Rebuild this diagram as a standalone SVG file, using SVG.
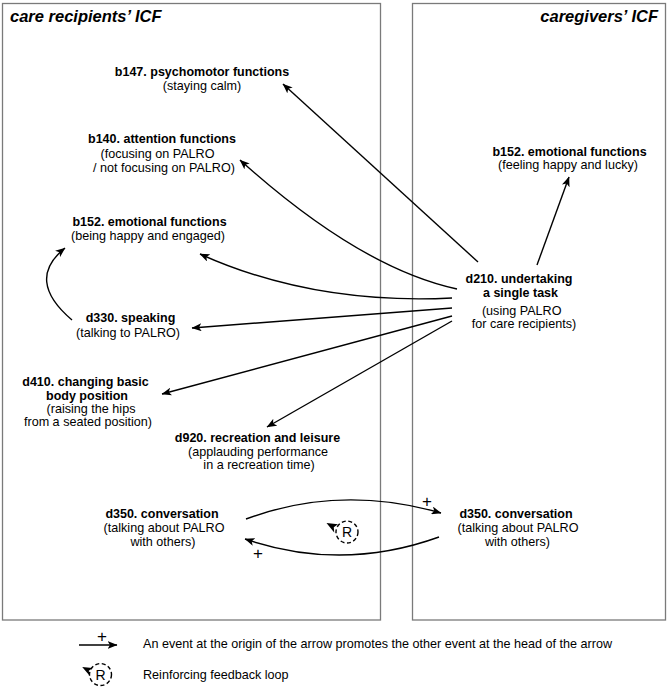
<svg xmlns="http://www.w3.org/2000/svg" width="669" height="695" viewBox="0 0 669 695">
<style>
.box{fill:none;stroke:#7a7a7a;stroke-width:1.3}
.title{font-family:"Liberation Sans",Arial,sans-serif;font-size:16.5px;font-weight:bold;font-style:italic;fill:#000}
.b{font-family:"Liberation Sans",Arial,sans-serif;font-size:12.5px;font-weight:bold;fill:#000;text-anchor:middle}
.r{font-family:"Liberation Sans",Arial,sans-serif;font-size:12.6px;fill:#000;text-anchor:middle}
.lg{font-family:"Liberation Sans",Arial,sans-serif;font-size:12.6px;fill:#000}
.pl{font-family:"Liberation Sans",Arial,sans-serif;font-size:17px;fill:#000;text-anchor:middle}
.rr{font-family:"Liberation Sans",Arial,sans-serif;font-size:14px;fill:#000;text-anchor:middle}
.c{fill:none;stroke:#000;stroke-width:1.4;marker-end:url(#arr)}
.loop{fill:#fff;stroke:#000;stroke-width:1.4;stroke-dasharray:4 2.6}
</style>
<defs>
<marker id="arr" viewBox="0 0 10 8" markerWidth="10" markerHeight="8" refX="9.5" refY="4" orient="auto" markerUnits="userSpaceOnUse">
<path d="M0,0 L10,4 L0,8 L2.5,4 z" fill="#000"/>
</marker>
</defs>
<rect class="box" x="2.5" y="3.5" width="378" height="616.5"/>
<rect class="box" x="412.5" y="3.5" width="253" height="616.5"/>
<text class="title" x="10" y="22">care recipients’ ICF</text>
<text class="title" x="658" y="22" text-anchor="end">caregivers’ ICF</text>

<g id="connectors">
<path class="c" d="M478,262 L283,84"/>
<path class="c" d="M457,289 Q360,268 240,160"/>
<path class="c" d="M452,298 Q313,305 200,254"/>
<path class="c" d="M452,308 L192,328"/>
<path class="c" d="M452,316 L162,394"/>
<path class="c" d="M452,321 L267,427"/>
<path class="c" d="M537,265 L569,177"/>
<path class="c" d="M72,320 Q25,280 65,248"/>
<path class="c" d="M246,519 Q340,484 441,513"/>
<path class="c" d="M439,537 Q342,572 245,539"/>
<text class="pl" x="427" y="507">+</text>
<text class="pl" x="258" y="559">+</text>
</g>

<g id="loop-R">
<circle class="loop" cx="347" cy="532" r="11"/>
<text class="rr" x="347" y="537">R</text>
<path d="M326.5,523 L338,524.2 L333.8,527.2 L334.2,532.5 z" fill="#000"/>
</g>

<g id="b147-care">
<text class="b" x="202" y="76">b147. psychomotor functions</text>
<text class="r" x="202" y="90">(staying calm)</text>
</g>
<g id="b140-care">
<text class="b" x="162" y="143">b140. attention functions</text>
<text class="r" x="157.5" y="158">(focusing on PALRO</text>
<text class="r" x="164" y="172">/ not focusing on PALRO)</text>
</g>
<g id="b152-care">
<text class="b" x="149.5" y="226">b152. emotional functions</text>
<text class="r" x="148" y="240">(being happy and engaged)</text>
</g>
<g id="d330-care">
<text class="b" x="130.5" y="322">d330. speaking</text>
<text class="r" x="128" y="337">(talking to PALRO)</text>
</g>
<g id="d410-care">
<text class="b" x="85.5" y="386">d410. changing basic</text>
<text class="b" x="87" y="399.5">body position</text>
<text class="r" x="91" y="413">(raising the hips</text>
<text class="r" x="88" y="426">from a seated position)</text>
</g>
<g id="d920-care">
<text class="b" x="257.5" y="442">d920. recreation and leisure</text>
<text class="r" x="258" y="456">(applauding performance</text>
<text class="r" x="259" y="469">in a recreation time)</text>
</g>
<g id="d350-care">
<text class="b" x="162" y="518">d350. conversation</text>
<text class="r" x="164" y="532">(talking about PALRO</text>
<text class="r" x="163" y="546">with others)</text>
</g>
<g id="d210-giver">
<text class="b" x="519" y="283">d210. undertaking</text>
<text class="b" x="520.5" y="297">a single task</text>
<text class="r" x="521.7" y="315">(using PALRO</text>
<text class="r" x="524" y="328">for care recipients)</text>
</g>
<g id="b152-giver">
<text class="b" x="569.5" y="156">b152. emotional functions</text>
<text class="r" x="568" y="169">(feeling happy and lucky)</text>
</g>
<g id="d350-giver">
<text class="b" x="516" y="518">d350. conversation</text>
<text class="r" x="518" y="532">(talking about PALRO</text>
<text class="r" x="517.5" y="546">with others)</text>
</g>

<g id="legend">
<path class="c" d="M79,645 L117,645"/>
<text class="pl" x="102" y="642">+</text>
<text class="lg" x="143" y="648">An event at the origin of the arrow promotes the other event at the head of the arrow</text>
<circle class="loop" cx="100.5" cy="674.5" r="11"/>
<text class="rr" x="100.5" y="679.5">R</text>
<path d="M82.2,667 L92.5,668 L88.8,670.8 L89.5,675.5 z" fill="#000"/>
<text class="lg" x="143" y="679">Reinforcing feedback loop</text>
</g>
</svg>
